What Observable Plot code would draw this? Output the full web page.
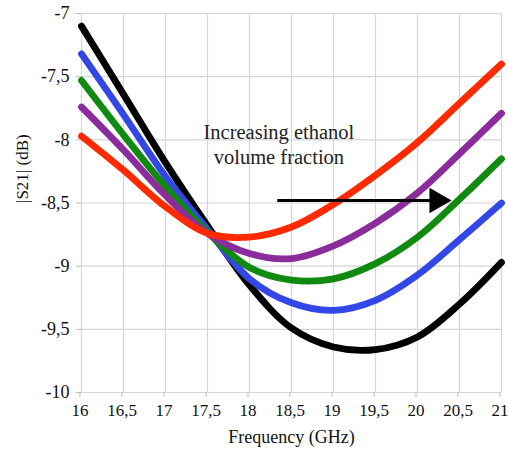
<!DOCTYPE html>
<html>
<head>
<meta charset="utf-8">
<script src="https://cdn.jsdelivr.net/npm/d3@7"></script>
<script src="https://cdn.jsdelivr.net/npm/@observablehq/plot@0.6"></script>
<style>
  html, body { margin: 0; padding: 0; background: #fff; }
</style>
</head>
<body>
<div id="chart"></div>
<script>
const freq   = [16, 16.5, 17, 17.5, 18, 18.5, 19, 19.5, 20, 20.5, 21];
const black  = [-7.10, -7.64, -8.18, -8.68, -9.15, -9.49, -9.64, -9.66, -9.56, -9.30, -8.97];
const blue   = [-7.32, -7.80, -8.29, -8.71, -9.10, -9.29, -9.35, -9.27, -9.07, -8.79, -8.50];
const green  = [-7.53, -7.96, -8.37, -8.73, -9.01, -9.11, -9.10, -8.98, -8.77, -8.47, -8.15];
const purple = [-7.74, -8.08, -8.44, -8.74, -8.90, -8.94, -8.84, -8.66, -8.42, -8.11, -7.79];
const red    = [-7.97, -8.24, -8.53, -8.74, -8.77, -8.69, -8.51, -8.28, -8.02, -7.71, -7.40];
const seriesNames  = ["black", "blue", "green", "purple", "red"];
const seriesValues = [black, blue, green, purple, red];
const seriesColors = ["#000000", "#3347e6", "#108a10", "#8a2c9c", "#ff2a00"];
const xTicks = [16, 16.5, 17, 17.5, 18, 18.5, 19, 19.5, 20, 20.5, 21];
const yTicks = [-7, -7.5, -8, -8.5, -9, -9.5, -10];
const annotation = ["Increasing ethanol\nvolume fraction"];
const annotationPos = {x: 18.35, y: -8.03};
const arrowFrom = {x: 18.33, y: -8.48};
const arrowTo = {x: 20.23, y: -8.48};

const rows = seriesNames.flatMap((s, i) => freq.map((f, j) => ({series: s, f, v: seriesValues[i][j]})));
const fmt = d => String(d).replace(".", ",");
const ff = "Liberation Serif";

const plot = Plot.plot({
  width: 508,
  height: 460,
  marginLeft: 81,
  marginRight: 7,
  marginTop: 13,
  marginBottom: 68,
  style: {fontFamily: ff, fontSize: "17px", overflow: "visible"},
  x: {domain: [16, 21]},
  y: {domain: [-10, -7]},
  marks: [
    Plot.gridX(xTicks, {stroke: "#d6d6d6", strokeOpacity: 1, strokeWidth: 1.2}),
    Plot.gridY(yTicks, {stroke: "#d6d6d6", strokeOpacity: 1, strokeWidth: 1.2}),
    Plot.axisX(xTicks, {tickFormat: fmt, tickSize: 5, tickPadding: 6, stroke: "#bbb", label: null, fontSize: 17, fontFamily: ff, fill: "#111", dx: -1.5}),
    Plot.axisY(yTicks, {tickFormat: fmt, tickSize: 5, tickPadding: 7, stroke: "#bbb", label: null, fontSize: 18, fontFamily: ff, fill: "#111"}),
    Plot.text(["|S21| (dB)"], {frameAnchor: "left", dx: -59, rotate: -90, text: d => d, fontSize: 17, fontFamily: ff, fill: "#111"}),
    Plot.text(["Frequency (GHz)"], {frameAnchor: "bottom", dy: 50, text: d => d, fontSize: 18, fontFamily: ff, fill: "#111"}),
    ...seriesNames.map((s, i) =>
      Plot.line(rows.filter(r => r.series === s), {x: "f", y: "v", stroke: seriesColors[i], strokeWidth: 6.8, curve: "catmull-rom"})
    ),
    Plot.text(annotation, {x: annotationPos.x, y: annotationPos.y, text: d => d, fontSize: 20.5, lineHeight: 1.22, fontFamily: ff, fill: "#222"}),
    Plot.link([0], {x1: arrowFrom.x, y1: arrowFrom.y, x2: arrowTo.x - 0.05, y2: arrowTo.y, stroke: "#000", strokeWidth: 3}),
    Plot.dot([0], {x: arrowTo.x, y: arrowTo.y, symbol: "triangle", r: 9.5, rotate: 90, fill: "#000", stroke: null})
  ]
});
document.getElementById("chart").appendChild(plot);
</script>
</body>
</html>
